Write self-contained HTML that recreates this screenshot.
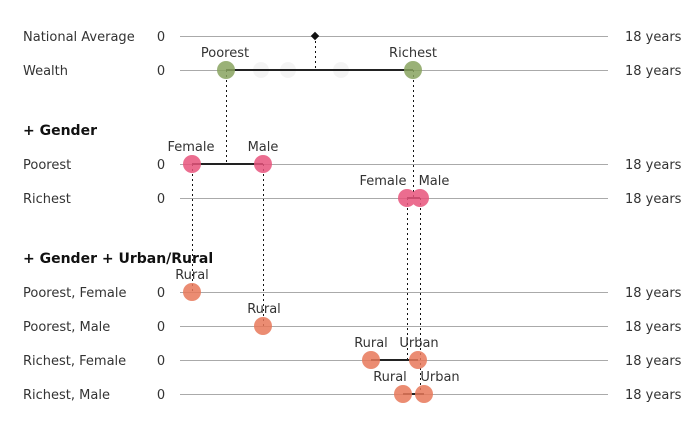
<!DOCTYPE html>
<html><head><style>body{margin:0;background:#fff}</style></head><body>
<svg width="698" height="422" xmlns="http://www.w3.org/2000/svg" font-family="DejaVu Sans, Liberation Sans, sans-serif" font-size="13" fill="#333">
<g stroke="#aaa" stroke-width="1">
<line x1="180" x2="608" y1="36.5" y2="36.5"/><line x1="180" x2="608" y1="70.5" y2="70.5"/>
<line x1="180" x2="608" y1="164.5" y2="164.5"/><line x1="180" x2="608" y1="198.5" y2="198.5"/>
<line x1="180" x2="608" y1="292.5" y2="292.5"/><line x1="180" x2="608" y1="326.5" y2="326.5"/>
<line x1="180" x2="608" y1="360.5" y2="360.5"/><line x1="180" x2="608" y1="394.5" y2="394.5"/>
</g>
<g>
<text x="23" y="41">National Average</text><text x="23" y="75">Wealth</text>
<text x="23" y="169">Poorest</text><text x="23" y="203">Richest</text>
<text x="23" y="297">Poorest, Female</text><text x="23" y="331">Poorest, Male</text>
<text x="23" y="365">Richest, Female</text><text x="23" y="399">Richest, Male</text>
<text x="23" y="135" font-weight="bold" font-size="14" fill="#111">+ Gender</text>
<text x="23" y="263" font-weight="bold" font-size="14" fill="#111">+ Gender + Urban/Rural</text>
</g>
<g text-anchor="middle">
<text x="161" y="41">0</text><text x="161" y="75">0</text><text x="161" y="169">0</text><text x="161" y="203">0</text>
<text x="161" y="297">0</text><text x="161" y="331">0</text><text x="161" y="365">0</text><text x="161" y="399">0</text>
</g>
<g>
<text x="625" y="41">18 years</text><text x="625" y="75">18 years</text><text x="625" y="169">18 years</text><text x="625" y="203">18 years</text>
<text x="625" y="297">18 years</text><text x="625" y="331">18 years</text><text x="625" y="365">18 years</text><text x="625" y="399">18 years</text>
</g>
<g fill="#eee" opacity="0.6"><circle cx="261" cy="70" r="8"/><circle cx="288" cy="70" r="8"/><circle cx="341" cy="70" r="8"/></g>
<g stroke="#111" stroke-width="1" stroke-dasharray="2,3">
<line x1="315.5" x2="315.5" y1="36" y2="70"/>
<line x1="226.5" x2="226.5" y1="70" y2="164"/><line x1="413.5" x2="413.5" y1="70" y2="198"/>
<line x1="192.5" x2="192.5" y1="164" y2="292"/><line x1="263.5" x2="263.5" y1="164" y2="326"/>
<line x1="407.5" x2="407.5" y1="198" y2="360"/><line x1="420.5" x2="420.5" y1="198" y2="394"/>
</g>
<g stroke="#222" stroke-width="2">
<line x1="226" x2="413" y1="70" y2="70"/><line x1="192" x2="263" y1="164" y2="164"/>
<line x1="407" x2="420" y1="198" y2="198"/><line x1="371" x2="418" y1="360" y2="360"/>
<line x1="403" x2="424" y1="394" y2="394"/>
</g>
<g fill="#88a35f" opacity="0.85"><circle cx="226" cy="70" r="9"/><circle cx="413" cy="70" r="9"/></g>
<g fill="#e8547c" opacity="0.85"><circle cx="192" cy="164" r="9"/><circle cx="263" cy="164" r="9"/><circle cx="407" cy="198" r="9"/><circle cx="420" cy="198" r="9"/></g>
<g fill="#e8785a" opacity="0.85"><circle cx="192" cy="292" r="9"/><circle cx="263" cy="326" r="9"/><circle cx="371" cy="360" r="9"/><circle cx="418" cy="360" r="9"/><circle cx="403" cy="394" r="9"/><circle cx="424" cy="394" r="9"/></g>
<rect x="312" y="33" width="6" height="6" fill="#111" transform="rotate(45 315 36)"/>
<g text-anchor="middle">
<text x="225" y="57">Poorest</text><text x="413" y="57">Richest</text>
<text x="191" y="151">Female</text><text x="263" y="151">Male</text>
<text x="383" y="185">Female</text><text x="434" y="185">Male</text>
<text x="192" y="279">Rural</text><text x="264" y="313">Rural</text>
<text x="371" y="347">Rural</text><text x="419" y="347">Urban</text>
<text x="390" y="381">Rural</text><text x="440" y="381">Urban</text>
</g>
</svg>
</body></html>
